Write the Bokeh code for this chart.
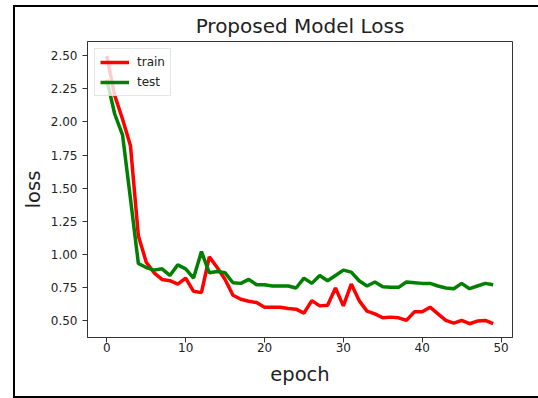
from bokeh.plotting import figure
from bokeh.models import Range1d, FixedTicker, PrintfTickFormatter
from bokeh.embed import file_html
from bokeh.resources import INLINE

# ---- data ----
epochs = list(range(50))
train_loss = [2.50, 2.20, 2.02, 1.82, 1.14, 0.94, 0.86, 0.81, 0.80, 0.775,
              0.82, 0.72, 0.71, 0.98, 0.90, 0.81, 0.69, 0.66, 0.645, 0.635,
              0.60, 0.60, 0.60, 0.59, 0.585, 0.555, 0.65, 0.61, 0.615, 0.745,
              0.61, 0.775, 0.65, 0.57, 0.55, 0.52, 0.525, 0.52, 0.50, 0.565,
              0.565, 0.60, 0.55, 0.50, 0.48, 0.50, 0.475, 0.495, 0.50, 0.475]
test_loss = [2.32, 2.06, 1.90, 1.42, 0.93, 0.90, 0.88, 0.89, 0.84, 0.92,
             0.89, 0.82, 1.02, 0.86, 0.87, 0.86, 0.785, 0.78, 0.81, 0.77,
             0.77, 0.76, 0.76, 0.76, 0.745, 0.82, 0.78, 0.84, 0.80, 0.84,
             0.88, 0.865, 0.80, 0.76, 0.79, 0.755, 0.75, 0.75, 0.79, 0.785,
             0.78, 0.78, 0.76, 0.745, 0.74, 0.78, 0.74, 0.76, 0.78, 0.77]
x_ticks = [0, 10, 20, 30, 40, 50]
y_ticks = [0.50, 0.75, 1.00, 1.25, 1.50, 1.75, 2.00, 2.25, 2.50]
series_names = ["train", "test"]
series_colors = ["#ff0000", "#008000"]
title_text = "Proposed Model Loss"
x_label = "epoch"
y_label = "loss"

FONT = "DejaVu Sans"
TXT = "#222222"
AX = "#333333"

p = figure(width=538, height=398, output_backend="svg", toolbar_location=None,
           x_range=Range1d(-2.45, 51.45), y_range=Range1d(0.371, 2.608),
           min_border_left=87, min_border_right=26, min_border_top=41,
           min_border_bottom=61)

# outer black frame of the screenshot, drawn behind a transparent border area
p.border_fill_alpha = 0
p.styles = {
    "background-color": "white",
    "box-shadow": ("inset 13px 0 0 0 white, inset 0 5px 0 0 white, "
                   "inset 15px 0 0 0 black, inset 0 7px 0 0 black, "
                   "inset 0 -2px 0 0 black"),
}

for ys, name, col in zip([train_loss, test_loss], series_names, series_colors):
    p.line(epochs, ys, line_color=col, line_width=3.5, legend_label=name)

p.grid.visible = False
p.outline_line_color = AX
p.outline_line_width = 1
p.background_fill_color = "white"

# title
p.title.text = title_text
p.title.align = "center"
p.title.text_font = FONT
p.title.text_font_size = "20px"
p.title.text_font_style = "normal"
p.title.text_color = TXT
p.title.standoff = 8

# axes
for ax in (p.xaxis[0], p.yaxis[0]):
    ax.axis_line_color = AX
    ax.major_tick_line_color = AX
    ax.minor_tick_line_color = None
    ax.major_tick_out = 5
    ax.major_tick_in = 0
    ax.major_label_text_font = FONT
    ax.major_label_text_font_size = "12px"
    ax.major_label_text_color = TXT
    ax.axis_label_text_font = FONT
    ax.axis_label_text_font_size = "19.5px"
    ax.axis_label_text_font_style = "normal"
    ax.axis_label_text_color = TXT

p.xaxis.ticker = FixedTicker(ticks=x_ticks)
p.yaxis.ticker = FixedTicker(ticks=y_ticks)
p.yaxis.formatter = PrintfTickFormatter(format="%.2f")
p.xaxis.axis_label = x_label
p.yaxis.axis_label = y_label
p.xaxis.major_label_standoff = 0
p.xaxis.axis_label_standoff = 8
p.yaxis.major_label_standoff = 5
p.yaxis.axis_label_standoff = 3

# legend
lg = p.legend[0]
lg.location = "top_left"
lg.margin = 7
lg.padding = 5
lg.spacing = 4
lg.glyph_width = 29
lg.glyph_height = 16
lg.label_height = 16
lg.label_standoff = 8
lg.label_text_font = FONT
lg.label_text_font_size = "12px"
lg.label_text_color = TXT
lg.border_line_color = "#cccccc"
lg.border_line_width = 1
lg.background_fill_alpha = 0.8

open("out.html", "w").write(file_html(p, INLINE))
